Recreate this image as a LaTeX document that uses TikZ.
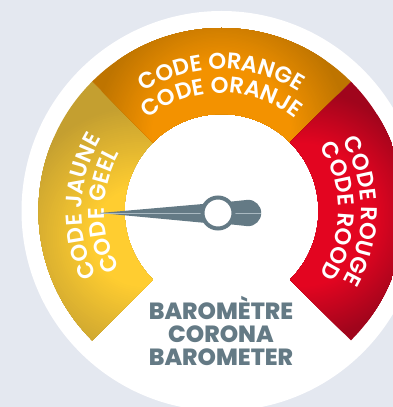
\documentclass[tikz,border=0pt]{standalone}
\usepackage{fontspec}
\setmainfont{Poppins}
\newfontfamily\ringface{Poppins SemiBold}
\newfontfamily\titleface{Poppins ExtraBold}
\usetikzlibrary{decorations.text}
\definecolor{bgc}{HTML}{E4E8F0}
\definecolor{slatec}{HTML}{647A85}
\definecolor{needleline}{HTML}{A9B9C1}
\definecolor{yelb}{HTML}{FFCD30}
\definecolor{yeld}{HTML}{C49F30}
\definecolor{orab}{HTML}{F39200}
\definecolor{orad}{HTML}{BE7400}
\definecolor{redb}{HTML}{E30520}
\definecolor{redd}{HTML}{A0051C}
\newcommand{\ringfont}{\fontsize{22.7}{23}\ringface\selectfont}
% #1 centre, #2 bright colour, #3 dark colour, #4 inner radius, #5 outer radius
\newcommand{\ringglow}[5]{%
  \fill[#3] (-250,-250) rectangle (250,250);
  \foreach \i in {0,...,40}{%
    \pgfmathsetmacro{\t}{\i*2.5}%
    \pgfmathsetmacro{\rr}{#5-(#5-#4)*\i/40}%
    \fill[#2!\t!#3] (#1) circle[radius=\rr];
  }%
}
\tikzset{
  x=1pt,y=1pt,
  ringtext/.style={decorate,decoration={text along path,text color=white,text align=center,text={|\ringfont|#1}}},
  titletext/.style={text=slatec,font=\fontsize{23.4}{23}\titleface\selectfont,align=center,inner sep=0pt}
}
\begin{document}
\begin{tikzpicture}
\useasboundingbox (0,0) rectangle (393,407);
\clip (0,0) rectangle (393,407);
\fill[bgc] (0,0) rectangle (393,407);
\begin{scope}[shift={(221.5,196)}]
  \fill[white] (0,0) circle[radius=200];
  % yellow sector
  \begin{scope}
    \clip (225:183) arc[start angle=225,end angle=135,radius=183] -- (135:97) arc[start angle=135,end angle=225,radius=97] -- cycle;
    \ringglow{-80,-26}{yelb}{yeld}{50}{132}
  \end{scope}
  % orange sector
  \begin{scope}
    \clip (135:183) arc[start angle=135,end angle=45,radius=183] -- (45:97) arc[start angle=45,end angle=135,radius=97] -- cycle;
    \ringglow{0,76}{orab}{orad}{70}{128}
  \end{scope}
  % red sector
  \begin{scope}
    \clip (45:183) arc[start angle=45,end angle=-45,radius=183] -- (-45:97) arc[start angle=-45,end angle=45,radius=97] -- cycle;
    \ringglow{80,-4}{redb}{redd}{72}{126}
  \end{scope}
  % ring labels
  \path[ringtext={CODE ORANGE}] (135:142) arc[start angle=135,end angle=45,radius=142];
  \path[ringtext={CODE ORANJE}] (140:118) arc[start angle=140,end angle=40,radius=118];
  \path[ringtext={CODE JAUNE}] (222:140) arc[start angle=222,end angle=134,radius=140];
  \path[ringtext={CODE GEEL}] (226:117) arc[start angle=226,end angle=134,radius=117];
  \path[ringtext={CODE ROUGE}] (46:140) arc[start angle=46,end angle=-46,radius=140];
  \path[ringtext={CODE ROOD}] (46:117) arc[start angle=46,end angle=-46,radius=117];
\end{scope}
% needle
\coordinate (tip) at (100,194);
\coordinate (hub) at (218,194);
\coordinate (tailend) at (261,194);
\fill[slatec] (tip) -- (203,203) -- (218,203) -- (218,185) -- (203,184.3) -- cycle;
\fill[slatec] (218,204) -- (248,207.2) arc[start angle=90,end angle=-90,radius=13.2] -- (218,184) -- cycle;
\draw[needleline,line width=0.4pt] (tip) -- (hub);
\draw[needleline,line width=0.4pt] (hub) -- (tailend);
\node[circle,draw=slatec,line width=4pt,fill=white,minimum size=31pt,inner sep=0pt] (hubnode) at (hub) {};
% title
\node[titletext] (title) at (221,76) {BAROMÈTRE\\CORONA\\BAROMETER};
\end{tikzpicture}
\end{document}
